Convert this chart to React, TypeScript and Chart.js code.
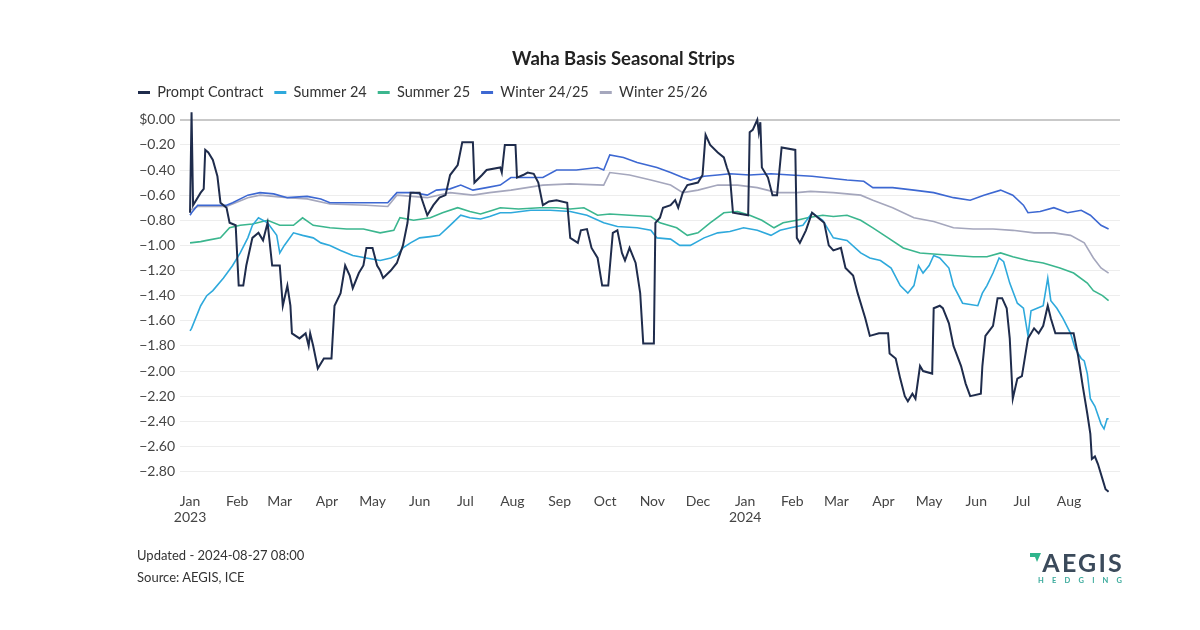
import React, { useEffect, useRef } from "react";
import { Chart, registerables } from "chart.js";

Chart.register(...registerables);

// x = days since 2023-01-01, y = $/MMBtu basis
const promptContract: [number, number][] = [
  [0,-0.74],[1,0.06],[2,-0.68],[7,-0.58],[9,-0.55],[10,-0.24],[12,-0.26],[15,-0.32],[18,-0.45],[20,-0.66],
  [24,-0.70],[26,-0.82],[30,-0.84],[32,-1.32],[35,-1.32],[37,-1.16],[41,-0.94],[45,-0.90],[48,-0.96],[51,-0.82],
  [54,-1.16],[59,-1.16],[61,-1.48],[64,-1.32],[66,-1.48],[67,-1.70],[72,-1.74],[76,-1.70],[78,-1.80],[79,-1.70],
  [81,-1.80],[84,-1.98],[88,-1.90],[93,-1.90],[95,-1.48],[99,-1.38],[102,-1.16],[105,-1.24],[107,-1.34],[111,-1.22],
  [114,-1.16],[116,-1.02],[120,-1.02],[123,-1.16],[125,-1.20],[127,-1.26],[132,-1.20],[136,-1.14],[140,-1.00],[143,-0.82],
  [145,-0.58],[151,-0.58],[156,-0.76],[160,-0.68],[164,-0.62],[168,-0.60],[171,-0.44],[176,-0.36],[179,-0.18],[186,-0.18],
  [187,-0.50],[192,-0.44],[195,-0.40],[204,-0.38],[205,-0.42],[207,-0.20],[214,-0.20],[215,-0.46],[219,-0.44],[222,-0.42],
  [226,-0.43],[229,-0.50],[232,-0.68],[236,-0.65],[241,-0.64],[248,-0.66],[250,-0.94],[255,-0.98],[257,-0.88],[261,-0.87],
  [264,-1.02],[268,-1.10],[271,-1.32],[275,-1.32],[278,-0.90],[281,-0.88],[284,-1.06],[286,-1.12],[289,-1.02],[293,-1.14],
  [296,-1.38],[298,-1.78],[305,-1.78],[306,-0.82],[309,-0.78],[311,-0.70],[316,-0.68],[319,-0.64],[321,-0.70],[324,-0.58],
  [327,-0.52],[334,-0.50],[337,-0.44],[339,-0.12],[342,-0.20],[347,-0.26],[351,-0.30],[353,-0.38],[355,-0.45],[357,-0.74],
  [367,-0.76],[368,-0.10],[370,-0.08],[373,0.00],[374,-0.10],[375,-0.02],[376,-0.38],[380,-0.46],[383,-0.60],[386,-0.60],
  [389,-0.22],[398,-0.24],[399,-0.94],[401,-0.98],[405,-0.88],[409,-0.74],[413,-0.78],[417,-0.82],[420,-1.00],[423,-1.04],
  [428,-1.02],[431,-1.18],[436,-1.24],[439,-1.38],[444,-1.58],[447,-1.72],[453,-1.70],[459,-1.70],[460,-1.86],[464,-1.90],
  [467,-2.06],[470,-2.20],[472,-2.24],[475,-2.18],[477,-2.22],[480,-1.96],[482,-2.00],[488,-2.02],[489,-1.50],[493,-1.48],
  [495,-1.50],[499,-1.62],[502,-1.80],[507,-1.96],[510,-2.10],[513,-2.20],[520,-2.18],[521,-1.96],[523,-1.72],[528,-1.64],
  [531,-1.42],[534,-1.42],[537,-1.50],[539,-1.74],[541,-2.22],[544,-2.06],[547,-2.04],[551,-1.74],[555,-1.66],[558,-1.70],
  [561,-1.64],[564,-1.48],[566,-1.58],[569,-1.70],[577,-1.70],[581,-1.70],[584,-1.88],[587,-2.12],[590,-2.34],[592,-2.50],
  [593,-2.70],[595,-2.68],[597,-2.74],[600,-2.86],[602,-2.94],[604,-2.96],
];

const summer24: [number, number][] = [
  [0,-1.68],[1,-1.66],[7,-1.48],[11,-1.40],[15,-1.36],[22,-1.26],[28,-1.16],[33,-1.06],[38,-0.94],[41,-0.84],
  [45,-0.78],[51,-0.82],[57,-0.92],[59,-1.06],[62,-1.00],[68,-0.90],[74,-0.92],[81,-0.94],[86,-0.98],[92,-1.00],
  [99,-1.04],[107,-1.08],[116,-1.10],[125,-1.12],[132,-1.10],[136,-1.08],[140,-1.02],[145,-0.98],[151,-0.94],[158,-0.93],
  [164,-0.92],[171,-0.84],[178,-0.76],[184,-0.78],[191,-0.79],[197,-0.77],[204,-0.74],[211,-0.74],[224,-0.72],[237,-0.72],
  [250,-0.73],[261,-0.76],[272,-0.82],[281,-0.85],[294,-0.86],[303,-0.88],[307,-0.94],[316,-0.95],[322,-1.00],[329,-1.00],
  [338,-0.94],[347,-0.90],[355,-0.89],[364,-0.86],[373,-0.88],[382,-0.92],[388,-0.88],[395,-0.86],[403,-0.84],[409,-0.74],
  [416,-0.80],[423,-0.94],[432,-0.96],[441,-1.06],[447,-1.10],[454,-1.12],[461,-1.18],[467,-1.32],[472,-1.38],[476,-1.32],
  [479,-1.16],[482,-1.22],[486,-1.16],[489,-1.08],[493,-1.10],[499,-1.18],[502,-1.32],[508,-1.46],[513,-1.47],[518,-1.48],
  [521,-1.38],[524,-1.32],[528,-1.22],[532,-1.10],[535,-1.13],[539,-1.30],[544,-1.46],[548,-1.50],[551,-1.72],[553,-1.52],
  [557,-1.50],[561,-1.48],[564,-1.26],[566,-1.44],[570,-1.50],[574,-1.58],[579,-1.70],[582,-1.82],[586,-1.90],[588,-1.92],
  [590,-2.02],[592,-2.22],[595,-2.28],[599,-2.42],[601,-2.46],[603,-2.38],[604,-2.38],
];

const summer25: [number, number][] = [
  [0,-0.98],[7,-0.97],[11,-0.96],[20,-0.94],[26,-0.86],[33,-0.84],[41,-0.83],[51,-0.80],[59,-0.84],[68,-0.84],
  [74,-0.78],[81,-0.84],[92,-0.86],[103,-0.87],[114,-0.87],[125,-0.90],[134,-0.88],[138,-0.78],[147,-0.80],[158,-0.78],
  [166,-0.74],[176,-0.70],[184,-0.73],[191,-0.75],[199,-0.72],[204,-0.70],[216,-0.71],[230,-0.70],[241,-0.70],[250,-0.71],
  [259,-0.70],[268,-0.76],[276,-0.75],[289,-0.76],[303,-0.77],[309,-0.82],[320,-0.86],[327,-0.92],[334,-0.90],[342,-0.82],
  [351,-0.74],[360,-0.73],[368,-0.76],[376,-0.80],[384,-0.86],[390,-0.82],[399,-0.80],[406,-0.78],[416,-0.76],[423,-0.77],
  [432,-0.76],[441,-0.80],[449,-0.86],[459,-0.94],[469,-1.02],[480,-1.06],[491,-1.07],[502,-1.08],[515,-1.09],[524,-1.09],
  [533,-1.06],[541,-1.09],[551,-1.12],[561,-1.14],[572,-1.18],[581,-1.22],[590,-1.30],[594,-1.36],[600,-1.40],[604,-1.44],
];

const winter2425: [number, number][] = [
  [0,-0.76],[1,-0.74],[5,-0.68],[15,-0.68],[24,-0.68],[28,-0.66],[38,-0.60],[46,-0.58],[55,-0.59],[64,-0.62],
  [77,-0.61],[86,-0.63],[92,-0.66],[103,-0.66],[116,-0.66],[130,-0.66],[136,-0.58],[147,-0.58],[156,-0.60],[162,-0.56],
  [171,-0.55],[178,-0.52],[186,-0.56],[195,-0.54],[204,-0.52],[211,-0.46],[232,-0.46],[241,-0.40],[254,-0.40],[268,-0.38],
  [272,-0.40],[276,-0.28],[285,-0.30],[294,-0.34],[307,-0.38],[316,-0.42],[324,-0.46],[329,-0.48],[338,-0.45],[347,-0.44],
  [355,-0.43],[368,-0.44],[382,-0.43],[395,-0.44],[409,-0.45],[432,-0.48],[443,-0.49],[449,-0.54],[462,-0.54],[476,-0.56],
  [489,-0.58],[502,-0.62],[513,-0.64],[522,-0.60],[533,-0.56],[541,-0.60],[548,-0.68],[551,-0.74],[559,-0.73],[568,-0.70],
  [577,-0.74],[586,-0.72],[592,-0.76],[599,-0.84],[604,-0.87],
];

const winter2526: [number, number][] = [
  [0,-0.72],[5,-0.69],[24,-0.69],[38,-0.62],[46,-0.60],[64,-0.62],[77,-0.63],[92,-0.67],[116,-0.68],[130,-0.69],
  [136,-0.60],[156,-0.62],[171,-0.58],[186,-0.60],[197,-0.58],[211,-0.56],[232,-0.52],[250,-0.51],[272,-0.52],[276,-0.42],
  [289,-0.44],[303,-0.48],[316,-0.52],[324,-0.58],[334,-0.56],[347,-0.52],[360,-0.52],[373,-0.54],[386,-0.58],[399,-0.58],
  [408,-0.57],[423,-0.58],[441,-0.60],[449,-0.64],[462,-0.70],[476,-0.78],[489,-0.81],[502,-0.86],[515,-0.87],[528,-0.87],
  [541,-0.88],[555,-0.90],[568,-0.90],[579,-0.92],[588,-0.98],[594,-1.10],[599,-1.18],[604,-1.22],
];

const seriesNames = ["Prompt Contract", "Summer 24", "Summer 25", "Winter 24/25", "Winter 25/26"];
const seriesColors = ["#1f2c4c", "#2ea9dc", "#3bb68e", "#3d68d2", "#a5a7bd"];

// month starts (days since 2023-01-01) and their labels
const monthTickDays = [0, 31, 59, 90, 120, 151, 181, 212, 243, 273, 304, 334, 365, 396, 425, 456, 486, 517, 547, 578];
const monthTickLabels: (string | string[])[] = [
  ["Jan", "2023"], "Feb", "Mar", "Apr", "May", "Jun", "Jul", "Aug", "Sep", "Oct", "Nov", "Dec",
  ["Jan", "2024"], "Feb", "Mar", "Apr", "May", "Jun", "Jul", "Aug",
];
const yTickValues = [0, -0.2, -0.4, -0.6, -0.8, -1.0, -1.2, -1.4, -1.6, -1.8, -2.0, -2.2, -2.4, -2.6, -2.8];

const titleText = "Waha Basis Seasonal Strips";
const updatedText = "Updated - 2024-08-27 08:00";
const sourceText = "Source: AEGIS, ICE";

export default function App() {
  const canvasRef = useRef<HTMLCanvasElement | null>(null);

  useEffect(() => {
    if (!canvasRef.current) return;
    Chart.defaults.font.family = "Lato, 'Open Sans', sans-serif";
    const all = [promptContract, summer24, summer25, winter2425, winter2526];
    const chart = new Chart(canvasRef.current, {
      type: "line",
      data: {
        datasets: all.map((s, i) => ({
          label: seriesNames[i],
          data: s.map(([d, v]) => ({ x: d, y: v })),
          borderColor: seriesColors[i],
          backgroundColor: seriesColors[i],
          borderWidth: i === 0 ? 2 : 1.6,
          pointRadius: 0,
          tension: 0,
          fill: false,
        })),
      },
      options: {
        animation: false,
        responsive: false,
        maintainAspectRatio: false,
        layout: { padding: { left: 127, right: 80, top: 38, bottom: 105 } },
        plugins: {
          title: {
            display: true,
            text: titleText,
            color: "#222",
            font: { size: 18.5, weight: "bold" },
            padding: { top: 10, bottom: 4 },
          },
          legend: {
            display: true,
            align: "start",
            labels: {
              color: "#333",
              font: { size: 14.5 },
              boxWidth: 12,
              boxHeight: 3,
              padding: 11,
              generateLabels: (c: any) => {
                const items = Chart.defaults.plugins.legend.labels.generateLabels(c);
                return items.map((it: any) => ({ ...it, lineWidth: 0 }));
              },
            },
          },
          tooltip: { enabled: false },
        },
        scales: {
          x: {
            type: "linear",
            min: -6.6,
            max: 611.5,
            grid: { display: false, drawTicks: false },
            border: { display: false },
            afterBuildTicks: (scale: any) => {
              scale.ticks = monthTickDays.map((d) => ({ value: d }));
            },
            ticks: {
              autoSkip: false,
              maxRotation: 0,
              color: "#444",
              font: { size: 14, lineHeight: 1.1 },
              padding: 0,
              callback: (value: any) => {
                const idx = monthTickDays.indexOf(Number(value));
                return idx >= 0 ? monthTickLabels[idx] : "";
              },
            },
          },
          y: {
            type: "linear",
            min: -2.98,
            max: 0.08,
            border: { display: false },
            afterBuildTicks: (scale: any) => {
              scale.ticks = yTickValues.map((v) => ({ value: v }));
            },
            afterFit: (scale: any) => {
              scale.width = 53;
            },
            grid: {
              drawTicks: false,
              color: (ctx: any) => (ctx.tick && Math.abs(ctx.tick.value) < 1e-9 ? "#c9c9c9" : "#ededed"),
              lineWidth: (ctx: any) => (ctx.tick && Math.abs(ctx.tick.value) < 1e-9 ? 2 : 1),
            },
            ticks: {
              color: "#444",
              font: { size: 14 },
              padding: 5,
              callback: (value: any) => {
                const v = Number(value);
                return Math.abs(v) < 1e-9 ? "$0.00" : "\u2212" + Math.abs(v).toFixed(2);
              },
            },
          },
        },
      },
    } as any);
    return () => chart.destroy();
  }, []);

  return (
    <div style={{ position: "absolute", left: 0, top: 0, width: 1200, height: 630, background: "#fff", fontFamily: "Lato, sans-serif" }}>
      <canvas ref={canvasRef} width={1200} height={630} style={{ position: "absolute", left: 0, top: 0, width: 1200, height: 630 }} />
      <div style={{ position: "absolute", left: 137, top: 544, fontSize: 13, color: "#333", lineHeight: "22px" }}>
        <div>{updatedText}</div>
        <div>{sourceText}</div>
      </div>
      <div style={{ position: "absolute", left: 1015, top: 549, width: 107, textAlign: "right" }}>
        <div style={{ display: "flex", alignItems: "center", justifyContent: "flex-end" }}>
          <svg width="11" height="12" viewBox="0 0 11 12" style={{ marginRight: 1, marginTop: -7 }}>
            <polygon points="0,0 11,0 7,9 5,4 0,4" fill="#2fb58c" />
          </svg>
          <span style={{ fontSize: 25, fontWeight: 700, color: "#3b4a5b", letterSpacing: 2.2, lineHeight: "27px", marginRight: -2 }}>AEGIS</span>
        </div>
        <div style={{ fontSize: 7.5, fontWeight: 700, color: "#3aaa9c", letterSpacing: 8.2, lineHeight: "9px", marginRight: -8.2 }}>HEDGING</div>
      </div>
    </div>
  );
}
